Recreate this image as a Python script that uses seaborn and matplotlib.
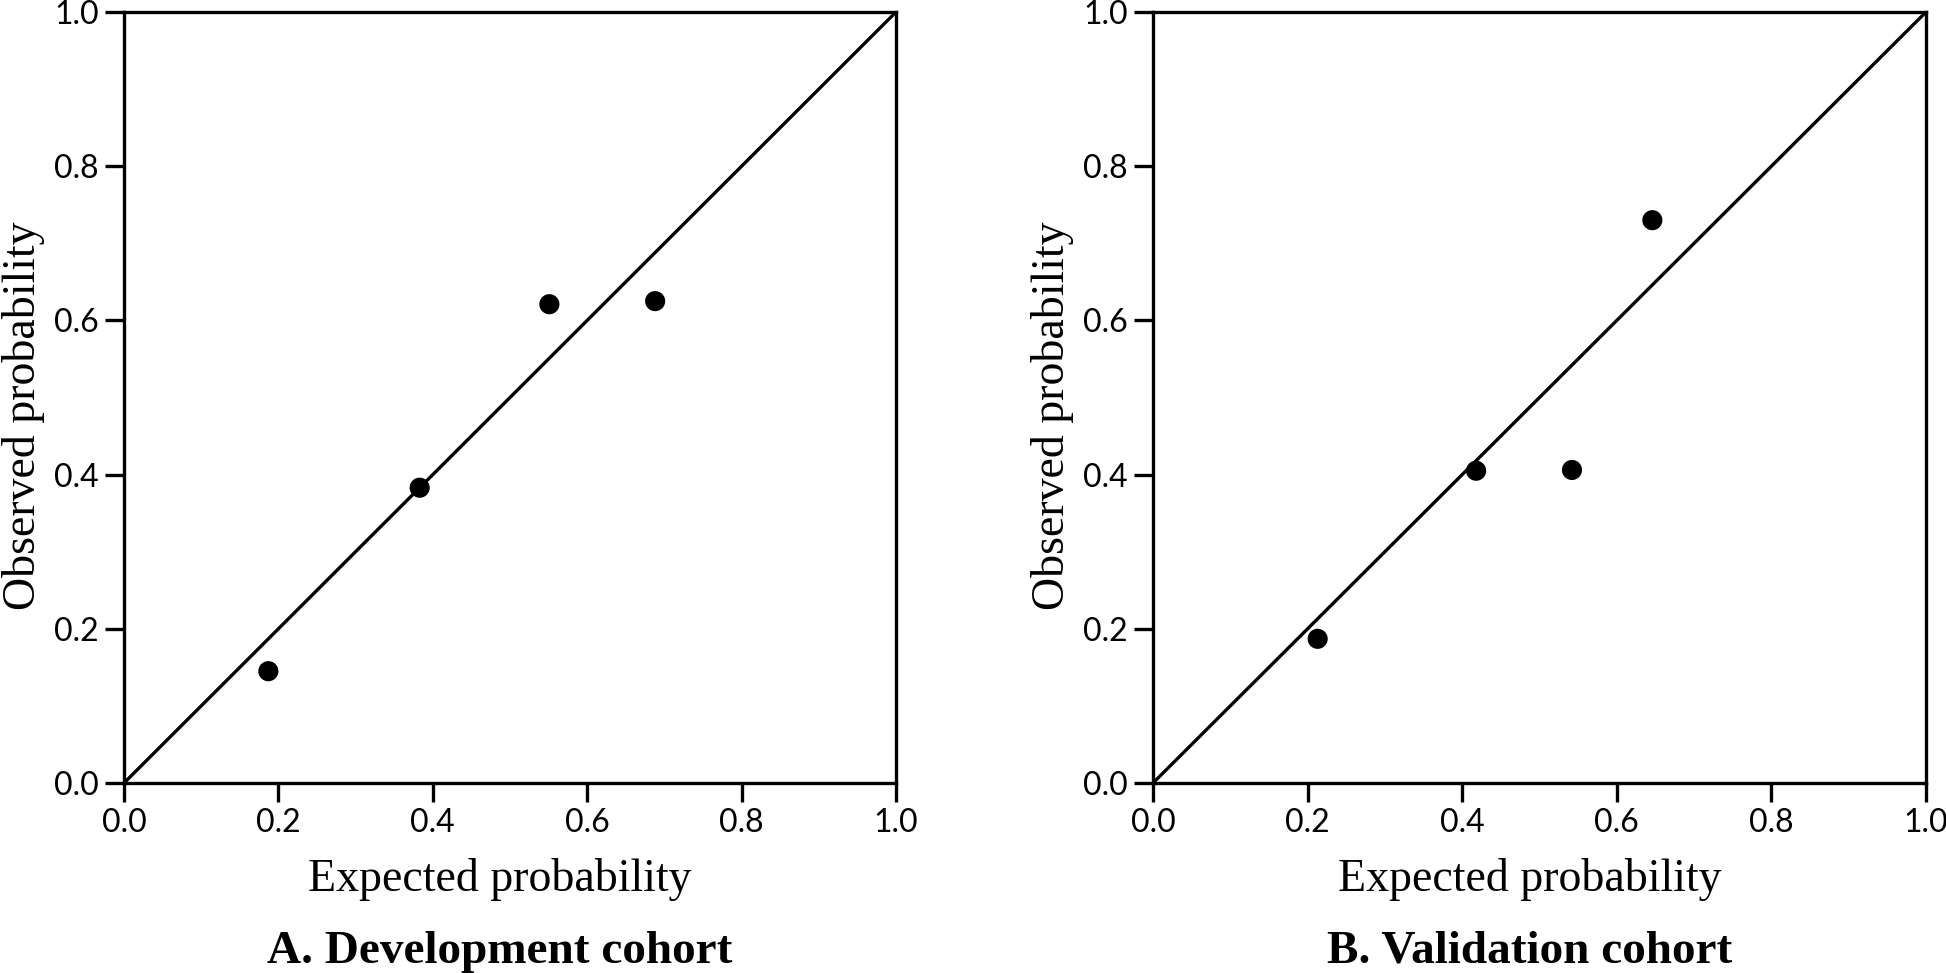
import matplotlib
matplotlib.use("Agg")
import matplotlib.pyplot as plt
import seaborn as sns
import pandas as pd

# calibration points
dev_expected = [0.187, 0.383, 0.551, 0.688]
dev_observed = [0.145, 0.383, 0.621, 0.625]
val_expected = [0.213, 0.418, 0.542, 0.646]
val_observed = [0.187, 0.405, 0.406, 0.730]
ref_line = [0.0, 1.0]
ticks = [0.0, 0.2, 0.4, 0.6, 0.8, 1.0]
panel_titles = ["A. Development cohort", "B. Validation cohort"]

sns.set_style("ticks")
plt.rcParams["font.family"] = ["Lato", "DejaVu Sans"]
plt.rcParams["text.color"] = "black"
plt.rcParams["axes.labelcolor"] = "black"

fig = plt.figure(figsize=(19.46, 9.73), dpi=100)
ax_a = fig.add_axes([124 / 1946, 1 - 783 / 973, 772 / 1946, 771 / 973])
ax_b = fig.add_axes([1153 / 1946, 1 - 783 / 973, 773 / 1946, 771 / 973])

panels = [
    (ax_a, dev_expected, dev_observed, panel_titles[0]),
    (ax_b, val_expected, val_observed, panel_titles[1]),
]

serif = ["Liberation Serif", "DejaVu Serif"]

for ax, xs, ys, title in panels:
    df = pd.DataFrame({"expected": xs, "observed": ys})
    sns.lineplot(x=ref_line, y=ref_line, ax=ax, color="black", linewidth=2.4)
    sns.scatterplot(data=df, x="expected", y="observed", ax=ax,
                    color="black", s=210, edgecolor="none", zorder=5)
    ax.set_xlim(0, 1)
    ax.set_ylim(0, 1)
    ax.set_xticks(ticks)
    ax.set_yticks(ticks)
    ax.set_xticklabels([f"{t:.1f}" for t in ticks])
    ax.set_yticklabels([f"{t:.1f}" for t in ticks])
    for side in ["top", "right", "bottom", "left"]:
        ax.spines[side].set_visible(True)
        ax.spines[side].set_linewidth(2.4)
        ax.spines[side].set_color("black")
    ax.tick_params(direction="out", length=14, width=2.4, pad=4,
                   labelsize=23, colors="black")
    ax.set_xlabel("Expected probability", fontsize=33, family=serif)
    ax.set_ylabel("Observed probability", fontsize=33, family=serif)
    ax.xaxis.set_label_coords(0.487, -0.097)
    ax.yaxis.set_label_coords(-0.102, 0.476)
    ax.text(0.487, -0.219, title, transform=ax.transAxes, ha="center",
            va="center", fontsize=34, fontweight="bold", family=serif)

fig.savefig("out.png", dpi=100, facecolor="white")
